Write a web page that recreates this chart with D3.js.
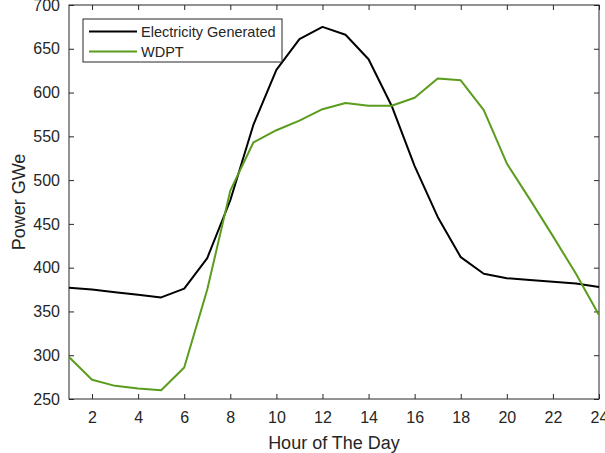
<!DOCTYPE html>
<html>
<head>
<meta charset="utf-8">
<script src="https://cdn.jsdelivr.net/npm/d3@7"></script>
<style>
  body { margin: 0; background: #fff; }
  text { font-family: Arial, "Liberation Sans", Helvetica, sans-serif; fill: #262626; }
</style>
</head>
<body>
<svg id="chart" width="605" height="453"></svg>
<script>
var hours = d3.range(1, 25);
var electricity = [377, 375, 372, 369, 366, 376, 411, 477, 563, 626, 661, 675, 666, 638, 585, 516, 458, 412, 393, 388, 386, 384, 382, 378];
var wdpt = [298, 272, 265, 262, 260, 286, 375, 488, 543, 557, 568, 581, 588, 585, 585, 594, 616, 614, 580, 519, 478, 436, 393, 346];
var xTicks = [2, 4, 6, 8, 10, 12, 14, 16, 18, 20, 22, 24];
var yTicks = [250, 300, 350, 400, 450, 500, 550, 600, 650, 700];
var series = [
  {name: "Electricity Generated", values: electricity, color: "#000000"},
  {name: "WDPT", values: wdpt, color: "#5a9c1c"}
];

var svg = d3.select("#chart"),
    margin = {top: 5, right: 6, bottom: 54, left: 69},
    width = +svg.attr("width") - margin.left - margin.right,
    height = +svg.attr("height") - margin.top - margin.bottom,
    g = svg.append("g").attr("transform", "translate(" + margin.left + "," + margin.top + ")");

var x = d3.scaleLinear().domain([1, 24]).range([0, width]);
var y = d3.scaleLinear().domain([250, 700]).range([height, 0]);

// axes, ticks pointing inward like matlab
var axisColor = "#262626";
function styleAxis(sel) {
  sel.select(".domain").remove();
  sel.selectAll("line").attr("stroke", axisColor);
  sel.selectAll("text").style("font-size", "16px").attr("fill", axisColor);
}

g.append("g")
    .attr("transform", "translate(0," + height + ")")
    .call(d3.axisBottom(x).tickValues(xTicks).tickSizeInner(-5).tickSizeOuter(0).tickPadding(13))
    .call(styleAxis);

g.append("g")
    .call(d3.axisLeft(y).tickValues(yTicks).tickSizeInner(-5).tickSizeOuter(0).tickPadding(9))
    .call(styleAxis);

g.append("g")
    .call(d3.axisTop(x).tickValues(xTicks).tickSizeInner(-5).tickSizeOuter(0).tickFormat(""))
    .call(styleAxis);

g.append("g")
    .attr("transform", "translate(" + width + ",0)")
    .call(d3.axisRight(y).tickValues(yTicks).tickSizeInner(-5).tickSizeOuter(0).tickFormat(""))
    .call(styleAxis);

// box
g.append("rect")
    .attr("width", width)
    .attr("height", height)
    .attr("fill", "none")
    .attr("stroke", axisColor)
    .attr("stroke-width", 1);

// lines
var line = d3.line()
    .x(function(d, i) { return x(hours[i]); })
    .y(function(d) { return y(d); });

g.selectAll(".serie")
  .data(series)
  .enter().append("path")
    .attr("class", "serie")
    .attr("fill", "none")
    .attr("stroke", function(d) { return d.color; })
    .attr("stroke-width", 2)
    .attr("stroke-linejoin", "round")
    .attr("d", function(d) { return line(d.values); });

// labels
svg.append("text")
    .attr("x", margin.left + width / 2)
    .attr("y", 449)
    .attr("text-anchor", "middle")
    .style("font-size", "18px")
    .text("Hour of The Day");

svg.append("text")
    .attr("transform", "translate(25," + (margin.top + height / 2) + ") rotate(-90)")
    .attr("text-anchor", "middle")
    .style("font-size", "18px")
    .text("Power GWe");

// legend
var legend = svg.append("g").attr("transform", "translate(83,19)");
legend.append("rect")
    .attr("width", 199)
    .attr("height", 43)
    .attr("fill", "#fff")
    .attr("stroke", axisColor);

var item = legend.selectAll(".item")
  .data(series)
  .enter().append("g")
    .attr("class", "item")
    .attr("transform", function(d, i) { return "translate(0," + (12.5 + i * 20) + ")"; });

item.append("line")
    .attr("x1", 6)
    .attr("x2", 54)
    .attr("stroke", function(d) { return d.color; })
    .attr("stroke-width", 2);

item.append("text")
    .attr("x", 58)
    .attr("dy", "0.35em")
    .style("font-size", "14.5px")
    .text(function(d) { return d.name; });
</script>
</body>
</html>
